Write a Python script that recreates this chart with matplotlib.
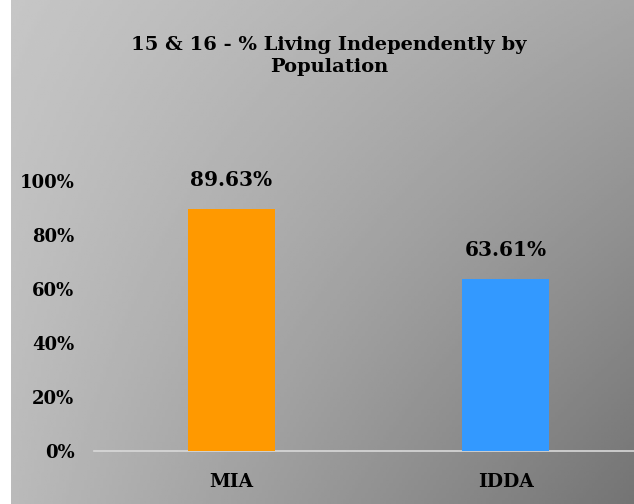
import numpy as np
import matplotlib.pyplot as plt

# chart data
categories = ["MIA", "IDDA"]
values = [89.63, 63.61]
bar_colors = ["#FF9900", "#3399FF"]
yticks = [0, 20, 40, 60, 80, 100]
title = "15 & 16 - % Living Independently by\nPopulation"

W, H, dpi = 634, 504, 100
fig = plt.figure(figsize=(W / dpi, H / dpi), dpi=dpi, facecolor="white")

# gray gradient background (light top-left -> dark bottom-right)
bg = fig.add_axes([11 / W, 0, 1 - 11 / W, 1], zorder=-10)
gx = np.linspace(0, 1, 200)
gy = np.linspace(0, 1, 200)
X, Y = np.meshgrid(gx, gy)
tl, tr, bl, br = 198, 166, 186, 116
grad = (tl * (1 - X) * (1 - Y) + tr * X * (1 - Y) + bl * (1 - X) * Y + br * X * Y) / 255
bg.imshow(grad, cmap="gray", vmin=0, vmax=1, aspect="auto", extent=[0, 1, 1, 0])
bg.axis("off")

font = dict(family="DejaVu Serif", weight="bold", color="black")

# plot axes: 0% at y=451, 100% at y=181, x from 94 to 634
ax_left, ax_right = 94, 634
y0, y100 = 451, 181
ax = fig.add_axes([ax_left / W, (H - y0) / H, (ax_right - ax_left) / W, (y0 - y100) / H])
ax.patch.set_visible(False)

x = np.arange(len(categories))
bars = ax.bar(x, values, width=0.318, color=bar_colors, zorder=3)
ax.set_xlim(-0.502, 1.469)
ax.set_ylim(0, 100)

for b, v in zip(bars, values):
    ax.annotate(f"{v:.2f}%", (b.get_x() + b.get_width() / 2, v),
                xytext=(0, 14), textcoords="offset points",
                ha="center", va="bottom", fontsize=14.5, **font)

ax.set_yticks(yticks)
ax.set_yticklabels([f"{t}%" for t in yticks], fontsize=13, **font)
ax.set_xticks(x)
ax.set_xticklabels(categories, fontsize=13.5, **font)
ax.tick_params(axis="y", length=0, pad=14)
ax.tick_params(axis="x", length=0, pad=16)

for s in ["top", "right", "left"]:
    ax.spines[s].set_visible(False)
ax.spines["bottom"].set_color("#d9d9d9")
ax.spines["bottom"].set_linewidth(1.2)

fig.text(329 / W, 1 - 56 / H, title, ha="center", va="center",
         fontsize=14, linespacing=1.35, **font)

fig.savefig("out.png", dpi=dpi)
